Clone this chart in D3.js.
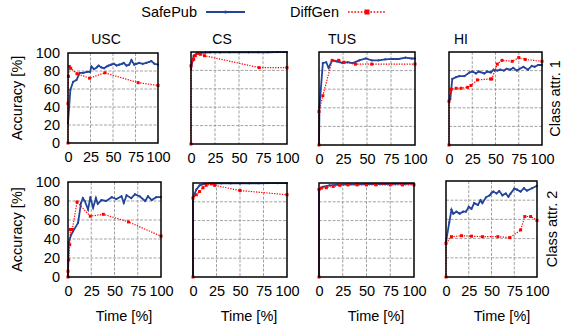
<!DOCTYPE html>
<html>
<head>
<meta charset="utf-8">
<script src="https://cdn.jsdelivr.net/npm/d3@7"></script>
<style>
  body { margin: 0; background: #fff; }
  svg { font-family: "Liberation Sans", Arial, sans-serif; }
</style>
</head>
<body>
<div id="chart"></div>
<script>
// data: [time %, accuracy %]
const uscSafePub1 = [[0,22],[2.6,59],[5.7,68],[9.4,70],[13,78],[17,78],[21,79],[24.5,79],[26,85],[29,82],[32,84],[34,86],[37,84],[40,83],[43,85],[45,86],[48,87],[51,88],[54,86],[57,87],[60,88],[62,89],[65,86],[68,87],[70.5,92],[73.6,87],[76,88],[79,89],[83,88],[87,89],[90,90],[92.5,91],[96,88],[100,87]];
const uscDiffGen1 = [[0,0],[0,44],[0.5,74],[1.5,85],[3,83],[10,77],[24,72],[41,78],[78,67],[100,64]];
const csSafePub1 = [[0,81],[1.5,90],[2.8,96],[6,98.5],[10,99],[15,99.3],[20,99.5],[30,99.5],[40,99.6],[50,99.6],[60,99.7],[70,99.7],[80,99.7],[90,99.8],[100,99.8]];
const csDiffGen1 = [[0,0],[0,85],[2.8,92],[4.5,96],[7,98.5],[9.7,97.5],[14,96],[71,83],[100,83]];
const tusSafePub1 = [[0,0],[0.5,41],[4,88],[7.5,89],[10,83],[13.7,91],[18,90],[24.7,88],[30,89],[35,88],[42,91],[48.6,93],[55,91],[62,91],[69,92],[76,92.5],[83,92.5],[90,94],[96.6,93],[100,93]];
const tusDiffGen1 = [[0,0],[0,36],[4,53],[13.7,91],[20.5,91],[26,89],[38,87],[55,87],[100,87]];
const hiSafePub1 = [[1.4,49],[3.5,71],[7.7,73],[11,74],[16.5,74],[22,78],[25,79],[29,77],[32,79],[38,77],[41,79],[45,78],[48,81],[52,80],[55,81],[59,80],[62,82],[66,81],[69,83],[73,80],[76,82],[80,84],[85,81],[89,85],[92,84],[96,86],[100,86]];
const hiDiffGen1 = [[0,0],[0,47],[2.5,60],[7.7,61],[13,61],[20,62],[23.6,64],[30.6,70],[44.7,71],[46,71],[52,87],[57,91],[68,90],[75,94],[82,92],[100,90]];

const uscSafePub2 = [[0,0],[0.7,36],[3.6,45],[5.4,48],[10.8,57],[14,78],[16,83],[18,80],[21.6,71],[24,84],[27,73],[30,83],[32,77],[36,81],[41,80],[47,84],[52,82],[57.5,85],[60,78],[63,86],[68,83],[72,87],[77,85],[83,80],[86,85],[90,81],[95,84],[100,84]];
const uscDiffGen2 = [[0,0],[0,6],[0.7,18],[1.8,34],[2.5,50],[4.7,50],[9.7,79],[24,64],[38,66],[65,58],[100,43]];
const csSafePub2 = [[0,0],[0,84],[3.5,93],[7,97.5],[12.4,99],[20,99.5],[30,99.5],[40,99.6],[50,99.6],[60,99.7],[70,99.7],[80,99.8],[90,99.8],[100,99.8]];
const csDiffGen2 = [[0,0],[0,84],[3.5,87.5],[7,91],[10.6,95],[14,97.5],[19.5,99],[23,97.5],[50,92],[100,87.5]];
const tusSafePub2 = [[0,0],[0,93],[4,96],[11,97.5],[20,98.2],[30,98.5],[40,98.6],[50,98.8],[60,98.8],[70,98.9],[80,99],[90,99],[100,99]];
const tusDiffGen2 = [[0,0],[0,93],[2.5,94.6],[7.7,95],[15,96.4],[22,97.5],[30.6,98],[40,98],[50,98],[60,98],[75,98],[88,98],[100,98]];
const hiSafePub2 = [[0,36.6],[3.6,57],[6,70],[8,66],[11.5,68],[15,66],[18.8,68],[22,68],[25,73],[28,71],[31,77],[35,75],[38,80],[40,77],[44,83],[48,85],[49.5,87],[52,89],[55.6,87],[58.5,89.5],[62,85],[65.7,87],[68.6,83.6],[71,87],[75,92],[78,91],[82,89],[85.6,92.5],[89,90],[94.6,92.5],[100,95]];
const hiDiffGen2 = [[0,0],[0,35],[6,42],[17,43],[28,42.5],[40,42],[57,42],[70,41],[82,49],[86.6,63],[93,63],[100,59]];

const datasets = ["USC", "CS", "TUS", "HI"];
const rowLabels = ["Class attr. 1", "Class attr. 2"];
const seriesNames = ["SafePub", "DiffGen"];
const xTicks = [0, 25, 50, 75, 100];
const yTicks = [0, 20, 40, 60, 80, 100];

const safePubData = [
    [uscSafePub1, csSafePub1, tusSafePub1, hiSafePub1],
    [uscSafePub2, csSafePub2, tusSafePub2, hiSafePub2]
];
const diffGenData = [
    [uscDiffGen1, csDiffGen1, tusDiffGen1, hiDiffGen1],
    [uscDiffGen2, csDiffGen2, tusDiffGen2, hiDiffGen2]
];

const width = 562;
const height = 329;
const blue = "#23449b";
const red = "#ff0000";

// panel boxes [left, right, top, bottom]
const boxes = [
    [[68, 158, 53, 143], [191, 287, 52, 144], [319, 415, 52, 145], [449, 542, 52, 145]],
    [[68, 161, 182, 277], [193, 287, 183, 277], [319, 414, 183, 277], [446, 537, 181, 277]]
];
const titleX = [106, 222, 342, 461];
const timeX = [124, 249, 376, 502];

const svg = d3.select("#chart").append("svg")
    .attr("width", width)
    .attr("height", height);

// legend
const legend = svg.append("g").style("font-size", "14.5px");
legend.append("text").attr("x", 197).attr("y", 17).attr("text-anchor", "end").text(seriesNames[0]);
legend.append("line").attr("x1", 206).attr("x2", 245).attr("y1", 12).attr("y2", 12)
    .attr("stroke", blue).attr("stroke-width", 2);
legend.append("circle").attr("cx", 225.5).attr("cy", 12).attr("r", 1.6).attr("fill", blue);
legend.append("text").attr("x", 339).attr("y", 17).attr("text-anchor", "end").text(seriesNames[1]);
legend.append("line").attr("x1", 348).attr("x2", 386).attr("y1", 12).attr("y2", 12)
    .attr("stroke", red).attr("stroke-width", 1.6).attr("stroke-dasharray", "1.6,1.6");
legend.append("rect").attr("x", 364.5).attr("y", 9.5).attr("width", 5).attr("height", 5).attr("fill", red);

// column titles
datasets.forEach((name, i) => {
    svg.append("text")
        .attr("x", titleX[i])
        .attr("y", 44)
        .attr("text-anchor", "middle")
        .style("font-size", "14px")
        .text(name);
});

for (let r = 0; r < 2; r++) {
    for (let c = 0; c < 4; c++) {
        const [x0, x1, y0, y1] = boxes[r][c];
        const xScale = d3.scaleLinear().domain([0, 100]).range([x0, x1]);
        const yScale = d3.scaleLinear().domain([0, 100]).range([y1, y0]);
        const g = svg.append("g");

        // grid
        g.selectAll(".vgrid")
            .data(xTicks.slice(1, -1))
            .enter().append("line")
            .attr("x1", d => xScale(d)).attr("x2", d => xScale(d))
            .attr("y1", y0).attr("y2", y1)
            .attr("stroke", "#999").attr("stroke-width", 0.9)
            .attr("stroke-dasharray", "3,1.5");
        g.selectAll(".hgrid")
            .data(yTicks.slice(1, -1))
            .enter().append("line")
            .attr("x1", x0).attr("x2", x1)
            .attr("y1", d => yScale(d)).attr("y2", d => yScale(d))
            .attr("stroke", "#999").attr("stroke-width", 0.9)
            .attr("stroke-dasharray", "3,1.5");

        // x axis
        const xAxis = g.append("g")
            .attr("transform", `translate(0, ${y1})`)
            .call(d3.axisBottom(xScale).tickValues(xTicks).tickSize(0).tickPadding(9));
        xAxis.select(".domain").remove();
        xAxis.selectAll("text").style("font-size", "14.5px").attr("fill", "#000")
            .style("font-family", "'Liberation Sans', Arial, sans-serif");

        // y axis on first column only
        if (c === 0) {
            const yAxis = g.append("g")
                .attr("transform", `translate(${x0}, 0)`)
                .call(d3.axisLeft(yScale).tickValues(yTicks).tickSize(0).tickPadding(8));
            yAxis.select(".domain").remove();
            yAxis.selectAll("text").style("font-size", "14.5px").attr("fill", "#000")
                .style("font-family", "'Liberation Sans', Arial, sans-serif");

            svg.append("text")
                .attr("transform", `translate(22, ${(y0 + y1) / 2}) rotate(-90)`)
                .attr("text-anchor", "middle")
                .style("font-size", "14.5px")
                .text("Accuracy [%]");
        }

        const line = d3.line().x(d => xScale(d[0])).y(d => yScale(d[1]));

        // SafePub
        g.append("path")
            .datum(safePubData[r][c])
            .attr("d", line)
            .attr("fill", "none")
            .attr("stroke", blue)
            .attr("stroke-width", 1.8);
        g.selectAll(".sp")
            .data(safePubData[r][c])
            .enter().append("circle")
            .attr("cx", d => xScale(d[0]))
            .attr("cy", d => yScale(d[1]))
            .attr("r", 1.1)
            .attr("fill", blue);

        // DiffGen
        g.append("path")
            .datum(diffGenData[r][c])
            .attr("d", line)
            .attr("fill", "none")
            .attr("stroke", red)
            .attr("stroke-width", 1.2)
            .attr("stroke-dasharray", "1.3,1.3");
        g.selectAll(".dg")
            .data(diffGenData[r][c])
            .enter().append("rect")
            .attr("x", d => xScale(d[0]) - 1.5)
            .attr("y", d => yScale(d[1]) - 1.5)
            .attr("width", 3)
            .attr("height", 3)
            .attr("fill", red);

        // border
        g.append("rect")
            .attr("x", x0).attr("y", y0)
            .attr("width", x1 - x0).attr("height", y1 - y0)
            .attr("fill", "none")
            .attr("stroke", "#000")
            .attr("stroke-width", 1.5);

        if (r === 1) {
            svg.append("text")
                .attr("x", timeX[c])
                .attr("y", 321)
                .attr("text-anchor", "middle")
                .style("font-size", "14.5px")
                .text("Time [%]");
        }
        if (c === 3) {
            svg.append("text")
                .attr("transform", `translate(${r === 0 ? 560 : 557}, ${(y0 + y1) / 2}) rotate(-90)`)
                .attr("text-anchor", "middle")
                .style("font-size", "14.5px")
                .text(rowLabels[r]);
        }
    }
}
</script>
</body>
</html>
